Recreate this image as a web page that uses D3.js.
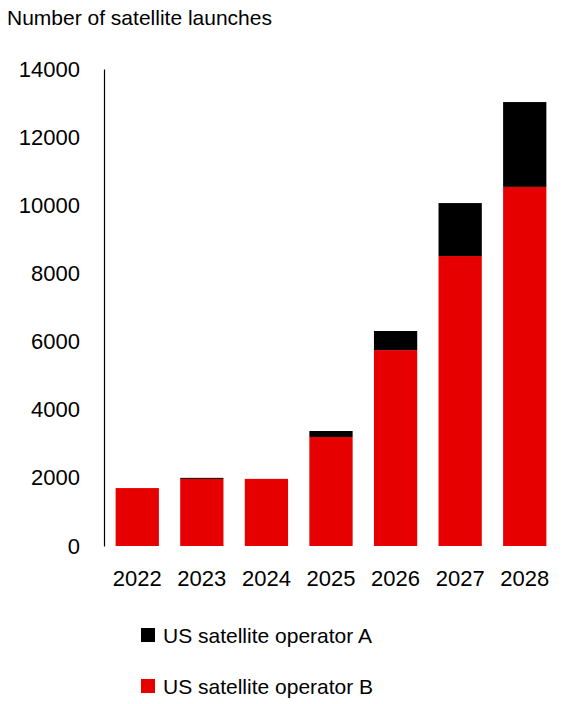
<!DOCTYPE html>
<html><head><meta charset="utf-8">
<script src="https://cdn.jsdelivr.net/npm/d3@7"></script>
<style>body{margin:0;background:#fff}text{font-family:"Liberation Sans",Arial,sans-serif}</style>
</head><body>
<script>
const years = ["2022","2023","2024","2025","2026","2027","2028"]
const operatorB = [1700, 1970, 1970, 3200, 5750, 8510, 10540]
const operatorA = [0, 30, 0, 175, 560, 1555, 2490]
const yTicks = [0, 2000, 4000, 6000, 8000, 10000, 12000, 14000]

const w = 568, h = 704
const svg = d3.select("body").append("svg").attr("width", w).attr("height", h)

const x = d3.scaleBand().domain(years).range([104, 558]).paddingInner(0.33).paddingOuter(0.18)
const y = d3.scaleLinear().domain([0, 14000]).range([546, 69])

svg.append("text").attr("x", 7).attr("y", 25).attr("font-size", 21).text("Number of satellite launches")

const yAxis = svg.append("g").attr("transform", "translate(104,0)")
    .call(d3.axisLeft(y).tickValues(yTicks).tickSize(0).tickPadding(24).tickFormat(d => d))
yAxis.select(".domain").attr("stroke", "#000").attr("stroke-width", 1.2)
yAxis.selectAll("text").attr("font-size", 22).attr("fill", "#000")
    .style("font-family", "Liberation Sans, Arial, sans-serif")

const xAxis = svg.append("g").attr("transform", "translate(0,546)")
    .call(d3.axisBottom(x).tickSize(0).tickPadding(24))
xAxis.select(".domain").remove()
xAxis.selectAll("text").attr("font-size", 22).attr("fill", "#000")
    .style("font-family", "Liberation Sans, Arial, sans-serif")

svg.append("g").selectAll("rect").data(years).join("rect")
    .attr("x", d => x(d)).attr("width", x.bandwidth())
    .attr("y", (d, i) => y(operatorB[i])).attr("height", (d, i) => y(0) - y(operatorB[i]))
    .attr("fill", "#e60000")
svg.append("g").selectAll("rect").data(years).join("rect")
    .attr("x", d => x(d)).attr("width", x.bandwidth())
    .attr("y", (d, i) => y(operatorB[i] + operatorA[i])).attr("height", (d, i) => y(operatorB[i]) - y(operatorB[i] + operatorA[i]))
    .attr("fill", "#000")

const legend = [["US satellite operator A", "#000"], ["US satellite operator B", "#e60000"]]
legend.forEach((l, i) => {
    svg.append("rect").attr("x", 141).attr("y", 628 + i * 51).attr("width", 14).attr("height", 14).attr("fill", l[1])
    svg.append("text").attr("x", 163).attr("y", 643 + i * 51).attr("font-size", 21).text(l[0])
})
</script>
</body></html>
